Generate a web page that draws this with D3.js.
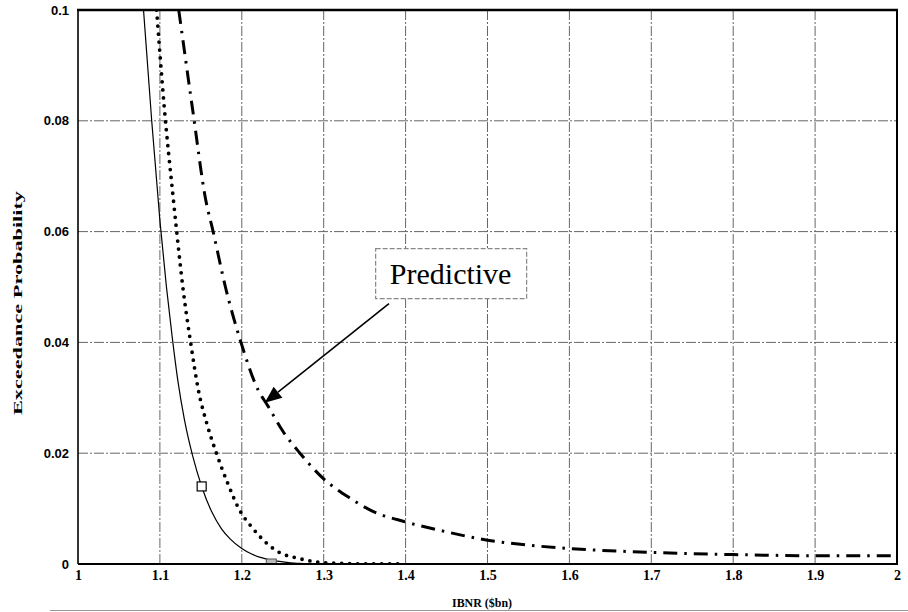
<!DOCTYPE html>
<html>
<head>
<meta charset="utf-8">
<script src="https://cdn.jsdelivr.net/npm/d3@7/dist/d3.min.js"></script>
<style>
  html, body { margin: 0; padding: 0; background: #fff; }
  svg { display: block; }
</style>
</head>
<body>
<svg id="chart" width="908" height="612"></svg>
<script>
// IBNR exceedance probability curves
const xTicks = [1, 1.1, 1.2, 1.3, 1.4, 1.5, 1.6, 1.7, 1.8, 1.9, 2];
const xTickLabels = ["1", "1.1", "1.2", "1.3", "1.4", "1.5", "1.6", "1.7", "1.8", "1.9", "2"];
const yTicks = [0, 0.02, 0.04, 0.06, 0.08, 0.1];
const yTickLabels = ["0", "0.02", "0.04", "0.06", "0.08", "0.1"];

// Solid curve
const solidX = [1.080, 1.090, 1.100, 1.108, 1.115, 1.122, 1.130, 1.140, 1.151, 1.163, 1.175, 1.186, 1.200, 1.212, 1.225, 1.240, 1.255, 1.270, 1.300];
const solidY = [0.100, 0.080, 0.062, 0.050, 0.041, 0.033, 0.026, 0.0195, 0.0140, 0.0095, 0.0064, 0.0045, 0.0028, 0.0018, 0.0011, 0.0006, 0.0003, 0.0001, 0.0000];
const solidMarkX = [1.151];
const solidMarkY = [0.0140];
const baseMarkX = [1.236];
const baseMarkY = [0];

// Dotted curve
const dottedX = [1.096, 1.105, 1.1165, 1.1205, 1.128, 1.1375, 1.147, 1.158, 1.169, 1.183, 1.197, 1.212, 1.230, 1.247, 1.267, 1.290, 1.320, 1.360, 1.400];
const dottedY = [0.100, 0.083, 0.0657, 0.060, 0.050, 0.040, 0.0314, 0.025, 0.020, 0.0145, 0.0098, 0.0067, 0.0038, 0.0020, 0.0011, 0.0004, 0.0001, 0.0000, 0.0000];

// Dash-dot curve ("Predictive")
const predX = [1.123, 1.140, 1.156, 1.165, 1.180, 1.199, 1.220, 1.232, 1.250, 1.271, 1.299, 1.332, 1.360, 1.400, 1.450, 1.500, 1.550, 1.600, 1.700, 1.800, 1.900, 2.000];
const predY = [0.100, 0.082, 0.0657, 0.060, 0.050, 0.040, 0.0314, 0.0285, 0.024, 0.020, 0.0155, 0.0119, 0.0095, 0.0076, 0.0058, 0.0043, 0.0034, 0.0028, 0.0021, 0.0017, 0.0015, 0.0015];

// Annotation: label anchor and arrow tip in data units
const noteText = "Predictive";
const noteLabelAt = [1.455, 0.0524];
const noteArrowFrom = [1.3797, 0.0470];
const noteArrowTo = [1.228, 0.0291];

const xTitle = "IBNR ($bn)";
const yTitle = "Exceedance Probability";

const svg = d3.select("#chart");
const L = 78, R = 897, T = 10, B = 564;

const x = d3.scaleLinear().domain([1, 2]).range([L, R]);
const y = d3.scaleLinear().domain([0, 0.1]).range([B, T]);

svg.append("defs").append("clipPath").attr("id", "plotClip")
  .append("rect").attr("x", L).attr("y", T).attr("width", R - L).attr("height", B - T);

// Grid
const grid = svg.append("g").attr("stroke", "#666").attr("stroke-width", 1)
  .attr("stroke-dasharray", "10,2,2,2").attr("fill", "none");
grid.selectAll("line.v").data(xTicks.slice(1, -1)).join("line")
  .attr("x1", d => x(d)).attr("x2", d => x(d)).attr("y1", T).attr("y2", B);
grid.selectAll("line.h").data(yTicks.slice(1, -1)).join("line")
  .attr("x1", L).attr("x2", R).attr("y1", d => y(d)).attr("y2", d => y(d));

const plot = svg.append("g").attr("clip-path", "url(#plotClip)");

function pts(xs, ys) { return xs.map((v, i) => [v, ys[i]]); }
const line = d3.line().x(d => x(d[0])).y(d => y(d[1])).curve(d3.curveMonotoneX);

plot.append("path").datum(pts(solidX, solidY))
  .attr("d", line).attr("fill", "none").attr("stroke", "#000").attr("stroke-width", 1.2);

plot.append("path").datum(pts(dottedX, dottedY))
  .attr("d", line).attr("fill", "none").attr("stroke", "#000").attr("stroke-width", 3.8)
  .attr("stroke-linecap", "round").attr("stroke-dasharray", "0,8");

plot.append("path").datum(pts(predX, predY))
  .attr("d", line).attr("fill", "none").attr("stroke", "#000").attr("stroke-width", 3)
  .attr("stroke-dasharray", "14,7,2.5,7");

// Square markers
plot.selectAll("rect.mk").data(pts(solidMarkX, solidMarkY)).join("rect")
  .attr("x", d => x(d[0]) - 4.5).attr("y", d => y(d[1]) - 4.5)
  .attr("width", 9).attr("height", 9)
  .attr("fill", "#fff").attr("stroke", "#000").attr("stroke-width", 1.2);
plot.selectAll("rect.bm").data(pts(baseMarkX, baseMarkY)).join("rect")
  .attr("x", d => x(d[0]) - 5).attr("y", d => y(d[1]) - 5)
  .attr("width", 10).attr("height", 10)
  .attr("fill", "#bbb").attr("stroke", "#555").attr("stroke-width", 1);

// Frame
svg.append("line").attr("x1", L).attr("x2", L).attr("y1", T).attr("y2", B)
  .attr("stroke", "#000").attr("stroke-width", 1.6);
svg.append("line").attr("x1", L).attr("x2", R + 1).attr("y1", B).attr("y2", B)
  .attr("stroke", "#000").attr("stroke-width", 2.2);
svg.append("line").attr("x1", L - 1).attr("x2", R + 1).attr("y1", T).attr("y2", T)
  .attr("stroke", "#000").attr("stroke-width", 2.6);
svg.append("line").attr("x1", R).attr("x2", R).attr("y1", T).attr("y2", B)
  .attr("stroke", "#000").attr("stroke-width", 2);

// Axes
const xAxis = d3.axisBottom(x).tickValues(xTicks).tickSize(0).tickPadding(6)
  .tickFormat((d, i) => xTickLabels[i]);
const gx = svg.append("g").attr("transform", `translate(0,${B})`).call(xAxis);
gx.select(".domain").remove();
gx.selectAll("text").attr("font-family", "'Liberation Serif', serif")
  .attr("font-weight", "bold").attr("font-size", 14).attr("fill", "#000");

const yAxis = d3.axisLeft(y).tickValues(yTicks).tickSize(0).tickPadding(9)
  .tickFormat((d, i) => yTickLabels[i]);
const gy = svg.append("g").attr("transform", `translate(${L},0)`).call(yAxis);
gy.select(".domain").remove();
gy.selectAll("text").attr("font-family", "'Liberation Sans', Arial, sans-serif")
  .attr("font-weight", "bold").attr("font-size", 13).attr("fill", "#000");

// Axis titles
svg.append("text").attr("x", 482).attr("y", 607).attr("text-anchor", "middle")
  .attr("font-family", "'Liberation Serif', serif").attr("font-weight", "bold")
  .attr("font-size", 13).attr("textLength", 60).attr("lengthAdjust", "spacingAndGlyphs")
  .attr("fill", "#000").text(xTitle);
svg.append("text").attr("transform", "translate(22,303) rotate(-90)")
  .attr("text-anchor", "middle")
  .attr("font-family", "'Liberation Serif', serif").attr("font-weight", "bold")
  .attr("font-size", 13).attr("textLength", 224).attr("lengthAdjust", "spacingAndGlyphs")
  .attr("fill", "#000").text(yTitle);

// Faint scan line under the chart
svg.append("line").attr("x1", 50).attr("x2", 908).attr("y1", 610.5).attr("y2", 610.5)
  .attr("stroke", "#999").attr("stroke-width", 1);

// Annotation
const ax0 = x(noteArrowFrom[0]), ay0 = y(noteArrowFrom[1]);
const ax1 = x(noteArrowTo[0]), ay1 = y(noteArrowTo[1]);
const ang = Math.atan2(ay1 - ay0, ax1 - ax0);
const headLen = 17, headW = 7;
const bx = ax1 - headLen * Math.cos(ang), by = ay1 - headLen * Math.sin(ang);
svg.append("line").attr("x1", ax0).attr("y1", ay0).attr("x2", bx).attr("y2", by)
  .attr("stroke", "#000").attr("stroke-width", 1.6);
svg.append("path")
  .attr("d", `M${ax1},${ay1}L${bx + headW * Math.sin(ang)},${by - headW * Math.cos(ang)}L${bx - headW * Math.sin(ang)},${by + headW * Math.cos(ang)}Z`)
  .attr("fill", "#000");

const lx = x(noteLabelAt[0]), ly = y(noteLabelAt[1]);
svg.append("rect").attr("x", lx - 75).attr("y", ly - 25).attr("width", 151).attr("height", 50)
  .attr("fill", "#fff").attr("stroke", "#888").attr("stroke-width", 1.2)
  .attr("stroke-dasharray", "5,2");
svg.append("text").attr("x", lx).attr("y", ly + 10).attr("text-anchor", "middle")
  .attr("font-family", "'Liberation Serif', 'Times New Roman', serif")
  .attr("font-size", 30).attr("fill", "#000").text(noteText);
</script>
</body>
</html>
